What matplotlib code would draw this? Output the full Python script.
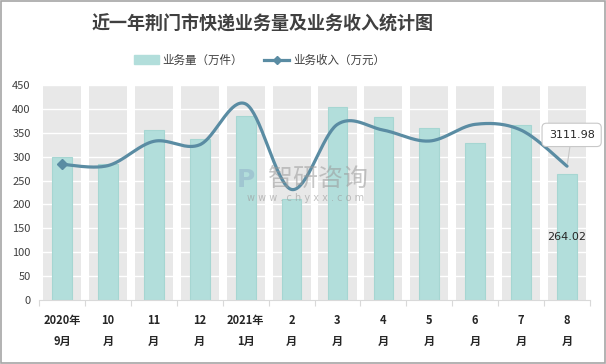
import matplotlib
matplotlib.use("Agg")
import matplotlib.pyplot as plt
import numpy as np
from matplotlib.lines import Line2D
from matplotlib.patches import Patch

plt.rcParams['font.family'] = ['Noto Sans CJK SC', 'DejaVu Sans']

categories = ["2020年\n9月", "10\n月", "11\n月", "12\n月", "2021年\n1月", "2\n月",
              "3\n月", "4\n月", "5\n月", "6\n月", "7\n月", "8\n月"]
volume = [300, 285, 356, 338, 386, 211, 403, 382, 361, 329, 366, 264.02]
revenue = [3156, 3125, 3690, 3610, 4560, 2570, 4085, 3950, 3697, 4085, 3950, 3111.98]

title = "近一年荆门市快递业务量及业务收入统计图"
bar_label = "业务量（万件）"
line_label = "业务收入（万元）"

BAR_C = '#b2dedb'
LINE_C = '#5a8ca3'
GRID_BG = '#e8e8e8'

fig = plt.figure(figsize=(6.06, 3.64), dpi=100)
fig.patch.set_facecolor('white')
ax = fig.add_axes([0.0644, 0.1758, 0.9092, 0.5907])
x = np.arange(len(categories))

ax.bar(x, [450] * len(x), width=0.83, color=GRID_BG, zorder=0)
for yv in range(50, 451, 50):
    ax.axhline(yv, color='white', lw=1.0, zorder=1)
ax.bar(x, volume, width=0.43, color=BAR_C, edgecolor='#a6d6d2', lw=0.8, zorder=2)

ax.set_xlim(-0.5, len(x) - 0.5)
ax.set_ylim(0, 450)
ax.set_yticks(range(0, 451, 50))
ax.tick_params(axis='y', length=0, labelsize=8, labelcolor='#404040', pad=6)
ax.set_xticks(x)
ax.set_xticklabels(categories, fontsize=8, fontweight='bold', color='#262626', linespacing=1.8)
ax.tick_params(axis='x', which='major', length=0, pad=10)
ax.set_xticks(np.arange(-0.5, len(x), 1.0), minor=True)
ax.tick_params(axis='x', which='minor', length=4, color='#d9d9d9', width=0.8)
for s in ['top', 'right', 'left']:
    ax.spines[s].set_visible(False)
ax.spines['bottom'].set_color('#d9d9d9')
ax.spines['bottom'].set_linewidth(0.8)

ax2 = ax.twinx()
ax2.set_ylim(0, 5000)
ax2.axis('off')

# Excel-style smoothed line (Bezier, tension 1/6)
P = np.column_stack([x.astype(float), np.array(revenue, dtype=float)])
n = len(P)
xs, ys = [], []
t = np.linspace(0, 1, 40)
for i in range(n - 1):
    p0 = P[i]
    p3 = P[i + 1]
    pm = P[i - 1] if i > 0 else P[i]
    pp = P[i + 2] if i + 2 < n else P[i + 1]
    c1 = p0 + (p3 - pm) / 6.0
    c2 = p3 - (pp - p0) / 6.0
    b = ((1 - t) ** 3)[:, None] * p0 + (3 * (1 - t) ** 2 * t)[:, None] * c1 + \
        (3 * (1 - t) * t ** 2)[:, None] * c2 + (t ** 3)[:, None] * p3
    xs.extend(b[:, 0]); ys.extend(b[:, 1])
ax2.plot(xs, ys, color=LINE_C, lw=2.3, zorder=5, solid_capstyle='round')
ax2.plot([x[0]], [revenue[0]], marker='D', ms=5, color=LINE_C, zorder=6)

# labels on last point
ax.text(x[-1], 132, f"{volume[-1]:.2f}", ha='center', va='center', fontsize=8, color='#262626',
        family=['DejaVu Sans'], zorder=7)
ax2.annotate(f"{revenue[-1]:.2f}", xy=(x[-1], revenue[-1]), xytext=(x[-1] + 0.1, 3840),
             ha='center', va='center', fontsize=8, color='#262626', family=['DejaVu Sans'],
             bbox=dict(boxstyle='round,pad=0.6,rounding_size=0.4', fc='white', ec='#c8c8c8', lw=0.8),
             arrowprops=dict(arrowstyle='-', color='#c8c8c8', lw=0.8, shrinkA=0, shrinkB=2),
             zorder=8, annotation_clip=False)

# watermark
fig.text(0.525, 0.508, "智研咨询", fontsize=18, color='#9a9a9a', alpha=0.55, ha='center', va='center')
fig.text(0.505, 0.455, "w w w . c h y x x . c o m", fontsize=7, color='#9a9a9a', alpha=0.6,
         ha='center', va='center', family=['DejaVu Sans'])
fig.text(0.405, 0.505, "P", fontsize=18, fontweight='bold', color='#8fb0c8', alpha=0.5, ha='center', va='center',
         family=['DejaVu Sans'])

fig.text(0.433, 0.935, title, fontsize=13, fontweight='bold', color='#404040', ha='center', va='center')

handles = [Patch(facecolor=BAR_C, edgecolor=BAR_C),
           Line2D([0], [0], color=LINE_C, lw=2.3, marker='D', ms=4)]
fig.legend(handles, [bar_label, line_label], loc='center', bbox_to_anchor=(0.428, 0.835), ncol=2,
           frameon=False, fontsize=8.3, handlelength=2.2, handleheight=0.7, columnspacing=1.8,
           handletextpad=0.3, labelcolor='#404040')

fig.add_artist(plt.Rectangle((0.0015, 0.002), 0.997, 0.995, transform=fig.transFigure,
                             fill=False, ec='#a6a6a6', lw=1.2))

fig.savefig("out.png", dpi=100)
